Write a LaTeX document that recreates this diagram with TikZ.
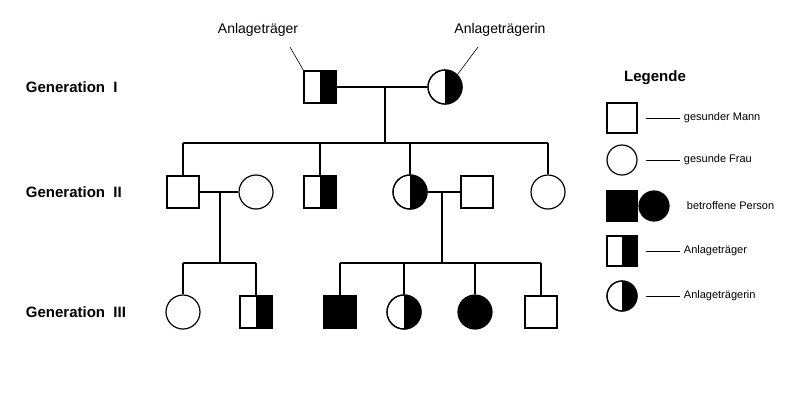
\documentclass[tikz,border=0pt]{standalone}
\usepackage{fontspec}
\usetikzlibrary{calc}
\setmainfont{Liberation Sans}
\begin{document}
\begin{tikzpicture}[x=1pt,y=-1pt,line width=1.2pt,
 sq/.style={draw,minimum size=32pt,inner sep=0pt,fill=white},
 ci/.style={draw,circle,minimum size=34pt,inner sep=0pt,fill=white},
 lbl/.style={font=\fontsize{14}{16}\selectfont},
 leg/.style={font=\fontsize{11}{13}\selectfont,anchor=west},
 gen/.style={font=\bfseries\fontsize{15}{17}\selectfont,anchor=west}]
\useasboundingbox (0,0) rectangle (800,400);
% Generation labels
\node[gen] (g1) at (22,87) {Generation \ I};
\node[gen] (g2) at (22,192) {Generation \ II};
\node[gen] (g3) at (22,312) {Generation \ III};
% Gen I
\node[sq] (a) at (320,87) {};
\fill (320,71) rectangle (336,103);
\node[sq,fill=none] at (320,87) {};
\node[ci] (b) at (445,87) {};
\fill (445,70) arc (-90:90:17) -- cycle;
\node[ci,fill=none] at (445,87) {};
\draw (a.east) -- (b.west);
\coordinate (m1) at (385,87);
\coordinate (s1) at (385,143);
\draw (m1) -- (s1);
\draw (183,143) -- (548,143);
% Gen II
\node[sq] (c) at (183,192) {};
\node[ci] (d) at (256,192) {};
\node[sq] (e) at (320,192) {};
\fill (320,176) rectangle (336,208);
\node[sq,fill=none] at (320,192) {};
\node[ci] (f) at (410,192) {};
\fill (410,175) arc (-90:90:17) -- cycle;
\node[ci,fill=none] at (410,192) {};
\node[sq] (g) at (477,192) {};
\node[ci] (h) at (548,192) {};
\foreach \n in {c,e,f,h} \draw (\n.north) -- (\n.north |- s1);
\draw (c.east) -- (d.west);
\draw (f.east) -- (g.west);
\coordinate (m2) at (220,192);
\coordinate (m3) at (442,192);
\draw (m2) -- (220,263);
\draw (m3) -- (442,263);
\draw (183,263) -- (256,263);
\draw (340,263) -- (541,263);
% Gen III
\node[ci] (i) at (183,312) {};
\node[sq] (j) at (256,312) {};
\fill (256,296) rectangle (272,328);
\node[sq,fill=none] at (256,312) {};
\node[sq,fill=black] (k) at (340,312) {};
\node[ci] (l) at (404,312) {};
\fill (404,295) arc (-90:90:17) -- cycle;
\node[ci,fill=none] at (404,312) {};
\node[ci,fill=black] (m) at (475,312) {};
\node[sq] (n) at (541,312) {};
\foreach \n in {i,j,k,l,m,n} \draw (\n.north) -- (\n.north |- 0,263);
% top labels
\node[lbl] (ta) at (258,30) {Anlageträger};
\node[lbl] (tb) at (500,30) {Anlageträgerin};
\draw[line width=0.6pt] (290,47) -- (a.north west);
\draw[line width=0.6pt] (478,47) -- (b.north east);
% Legend
\node[font=\bfseries\fontsize{15}{17}\selectfont] (lg) at (655,78) {Legende};
\node[sq,minimum size=30pt] (l1) at (622,118) {};
\node[ci,minimum size=30pt] (l2) at (622,160) {};
\node[sq,minimum size=30pt,fill=black] (l3) at (622,206) {};
\node[ci,minimum size=30pt,fill=black] (l3b) at (654,206) {};
\node[sq,minimum size=30pt] (l4) at (622,251) {};
\fill (622,236) rectangle (637,266);
\node[sq,minimum size=30pt,fill=none] at (622,251) {};
\node[ci,minimum size=30pt] (l5) at (622,296) {};
\fill (622,281) arc (-90:90:15) -- cycle;
\node[ci,minimum size=30pt,fill=none] at (622,296) {};
\node[leg] (t1) at (680,118) {gesunder Mann};
\node[leg] (t2) at (680,160) {gesunde Frau};
\node[leg] (t3) at (683,206) {betroffene Person};
\node[leg] (t4) at (680,251) {Anlageträger};
\node[leg] (t5) at (680,296) {Anlageträgerin};
\foreach \a/\b in {l1/t1,l2/t2,l4/t4,l5/t5} \draw[line width=0.6pt] ($(\a.east)+(8,0)$) -- (\b.west);
\end{tikzpicture}
\end{document}
